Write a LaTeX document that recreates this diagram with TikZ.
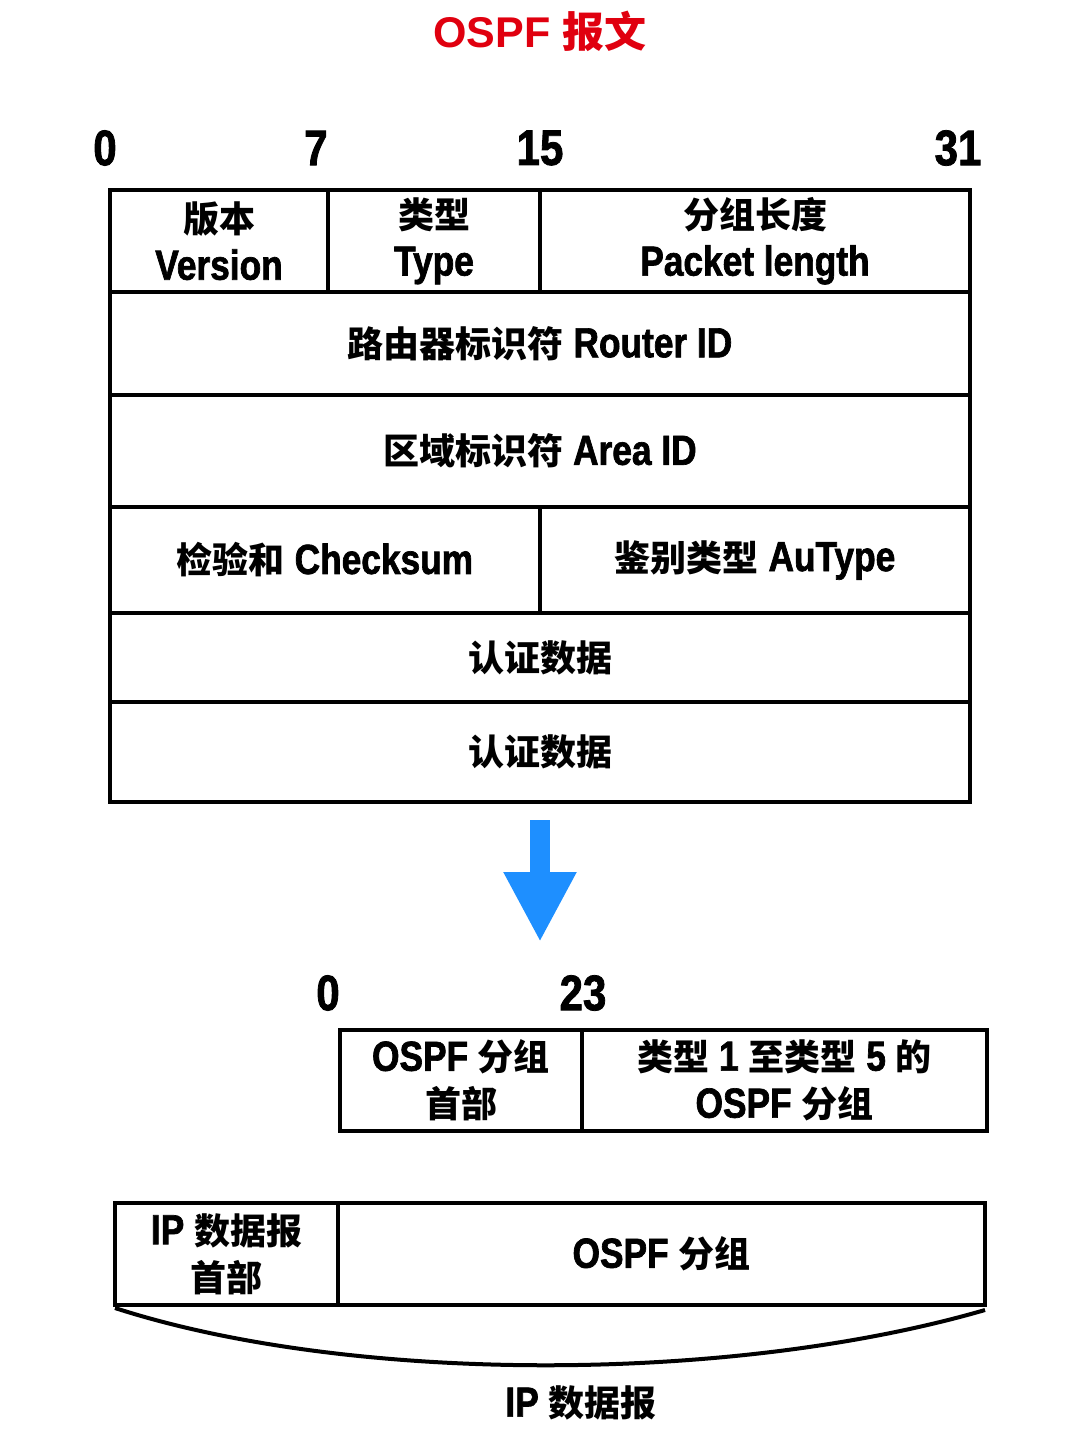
\documentclass[tikz,border=0pt]{standalone}
\usepackage{fontspec}
\usetikzlibrary{arrows.meta}
\setmainfont{Liberation Sans Bold}[FakeStretch=0.84,FakeBold=1.6]
\newfontfamily\titlefont{Liberation Sans Bold}
\newfontfamily\cjk{Noto Sans CJK SC}
\newcommand{\zh}[1]{{\cjk\bfseries\fontsize{36}{47}\selectfont #1}}
\definecolor{ink}{HTML}{000000}
\definecolor{headred}{HTML}{E0000F}
\definecolor{flowblue}{HTML}{1E8FFF}

\begin{document}
\begin{tikzpicture}[
  x=1pt,y=-1pt,
  cell/.style 2 args={draw=ink,line width=4pt,minimum width=#1pt,minimum height=#2pt,
                      inner sep=0pt,outer sep=0pt,align=center,text=ink,
                      font=\fontsize{42}{47}\selectfont},
  bit/.style={font=\fontsize{50}{50}\selectfont,text=ink,inner sep=0pt},
  caption/.style={font=\fontsize{42}{47}\selectfont,text=ink,inner sep=0pt},
  flow/.style={-{Triangle[length=70pt,width=68pt]},line width=20pt,draw=flowblue,color=flowblue}
]
\useasboundingbox (0,0) rectangle (1080,1451);

% 1. Title and bit positions.
\node[font=\titlefont\fontsize{43}{43}\selectfont,text=headred,inner sep=0pt]
  (title) at (540,31) {OSPF {\cjk\bfseries\fontsize{42}{42}\selectfont 报文}};
\node[bit] (b0) at (105,148) {0};
\node[bit] (b7) at (316,148) {7};
\node[bit] (b15) at (540,148) {15};
\node[bit] (b31) at (958,148) {31};

% 2. OSPF header fields.
\node[cell={218}{102}] (ver) at (219,241) {\zh{版本}\\Version};
\node[cell={212}{102}] (typ) at (434,241) {\zh{类型}\\Type};
\node[cell={430}{102}] (len) at (755,241) {\zh{分组长度}\\Packet length};
\node[cell={860}{103}] (rid) at (540,343.5) {\zh{路由器标识符} Router ID};
\node[cell={860}{112}] (aid) at (540,451) {\zh{区域标识符} Area ID};
\node[cell={430}{106}] (chk) at (325,560) {\zh{检验和} Checksum};
\node[cell={430}{106}] (aut) at (755,560) {\zh{鉴别类型} AuType};
\node[cell={860}{89}] (auth1) at (540,657.5) {\zh{认证数据}};
\node[cell={860}{100}] (auth2) at (540,752) {\zh{认证数据}};

% 3. Down arrow.
\coordinate (tip) at (540,942);
\draw[flow] ([yshift=-18pt]auth2.south) -- (tip);

% 4. OSPF packet inside an IP datagram.
\node[bit] (c0) at (328,993) {0};
\node[bit] (c23) at (583,993) {23};
\node[cell={242}{101}] (ohdr) at (461,1080.5) {OSPF \zh{分组}\\\zh{首部}};
\node[cell={405}{101}] (obody) at (784.5,1080.5)
  {\zh{类型} 1 \zh{至类型} 5 \zh{的}\\OSPF \zh{分组}};
\node[cell={223}{102}] (iphdr) at (226.5,1254) {IP \zh{数据报}\\\zh{首部}};
\node[cell={647}{102}] (ippay) at (661.5,1254) {OSPF \zh{分组}};

\draw[ink,line width=4pt] ([yshift=-3pt]iphdr.south west)
  .. controls (350,1384) and (730,1384) .. ([yshift=-5pt]ippay.south east);
\node[caption] (iplabel) at (581,1403) {IP \zh{数据报}};

\end{tikzpicture}
\end{document}
